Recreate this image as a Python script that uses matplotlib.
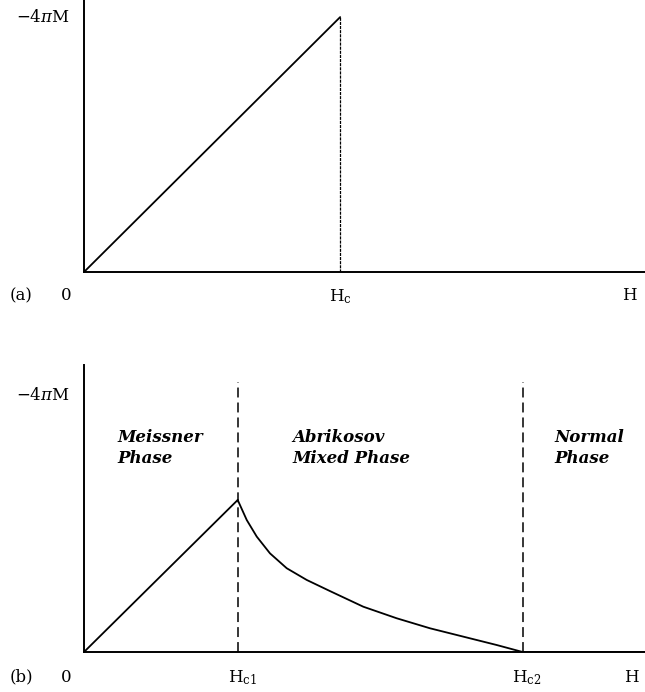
"""
Magnetisation curves of type-I (a) and type-II (b) superconductors,
-4piM against applied field H. Values read off the original sketch.
"""
import matplotlib
matplotlib.use("Agg")
import matplotlib.pyplot as plt

plt.rcParams["font.family"] = "DejaVu Serif"
plt.rcParams["mathtext.fontset"] = "dejavuserif"

# (a) type I: linear rise to Hc, then drop to zero
H_a = [0.0, 1.0]
M_a = [0.0, 1.0]
HC = 1.0

# (b) type II: Meissner line up to Hc1, then decay to zero at Hc2
HC1 = 1.0
HC2 = 2.854
H_meissner = [0.0, 1.0]
M_meissner = [0.0, 1.0]
H_mixed = [1.0, 1.059, 1.124, 1.210, 1.319, 1.449, 1.600, 1.817,
           2.034, 2.251, 2.468, 2.685, 2.854]
M_mixed = [1.0, 0.868, 0.759, 0.649, 0.551, 0.474, 0.401, 0.298,
           0.222, 0.156, 0.101, 0.046, 0.0]
H_normal = [2.854, 3.65]
M_normal = [0.0, 0.0]

W, H = 645, 692
fig = plt.figure(figsize=(W / 100, H / 100), dpi=100)
fig.patch.set_facecolor("white")


def px_axes(x0, y0, x1, y1):
    # axes placed by pixel box (left, top, right, bottom), y from top
    return fig.add_axes([x0 / W, 1 - y1 / H, (x1 - x0) / W, (y1 - y0) / H])


def label(x, y, s, **kw):
    fig.text(x / W, 1 - y / H, s, ha=kw.pop("ha", "center"),
             va=kw.pop("va", "center"), **kw)


def style(ax):
    ax.spines[["top", "right"]].set_visible(False)
    for sp in ("left", "bottom"):
        ax.spines[sp].set_linewidth(1.4)
    ax.set_xticks([])
    ax.set_yticks([])
    ax.patch.set_alpha(0)


line_kw = dict(color="black", lw=1.3, solid_joinstyle="round",
               solid_capstyle="round")

# ---- panel (a)
ax1 = px_axes(84, 0, 645, 272)
ax1.plot(H_a, M_a, **line_kw)
ax1.plot([HC, HC], [0, M_a[-1]], color="black", lw=0.9, ls=(0, (2.5, 0.8)))
ax1.set_xlim(0, 2.19)
ax1.set_ylim(0, 1.067)
style(ax1)

label(70, 18, r"$-4\pi\mathrm{M}$", ha="right", fontsize=12)
label(21, 296, "(a)", fontsize=12)
label(66, 296, "0", fontsize=12)
label(340, 297, r"$\mathrm{H_c}$", fontsize=12)
label(630, 296, r"$\mathrm{H}$", fontsize=12)

# ---- panel (b)
ax2 = px_axes(84, 365, 645, 652)
ax2.plot(H_meissner, M_meissner, **line_kw)
ax2.plot(H_mixed, M_mixed, **line_kw)
ax2.plot(H_normal, M_normal, **line_kw)
for hc in (HC1, HC2):
    ax2.plot([hc, hc], [0, 1.776], color="black", lw=1.1,
             ls=(0, (6.5, 3.3)))
ax2.set_xlim(0, 3.65)
ax2.set_ylim(0, 1.888)
style(ax2)

label(70, 396, r"$-4\pi\mathrm{M}$", ha="right", fontsize=12)
label(21, 677, "(b)", fontsize=12)
label(66, 677, "0", fontsize=12)
label(242, 678, r"$\mathrm{H_{c1}}$", fontsize=12)
label(527, 678, r"$\mathrm{H_{c2}}$", fontsize=12)
label(632, 677, r"$\mathrm{H}$", fontsize=12)

phase_kw = dict(ha="left", va="center", fontsize=12, style="italic",
                fontweight="bold", linespacing=1.25)
label(117, 448, "Meissner\nPhase", **phase_kw)
label(292, 448, "Abrikosov\nMixed Phase", **phase_kw)
label(554, 448, "Normal\nPhase", **phase_kw)

fig.savefig("out.png", dpi=100, facecolor="white")
plt.close(fig)
